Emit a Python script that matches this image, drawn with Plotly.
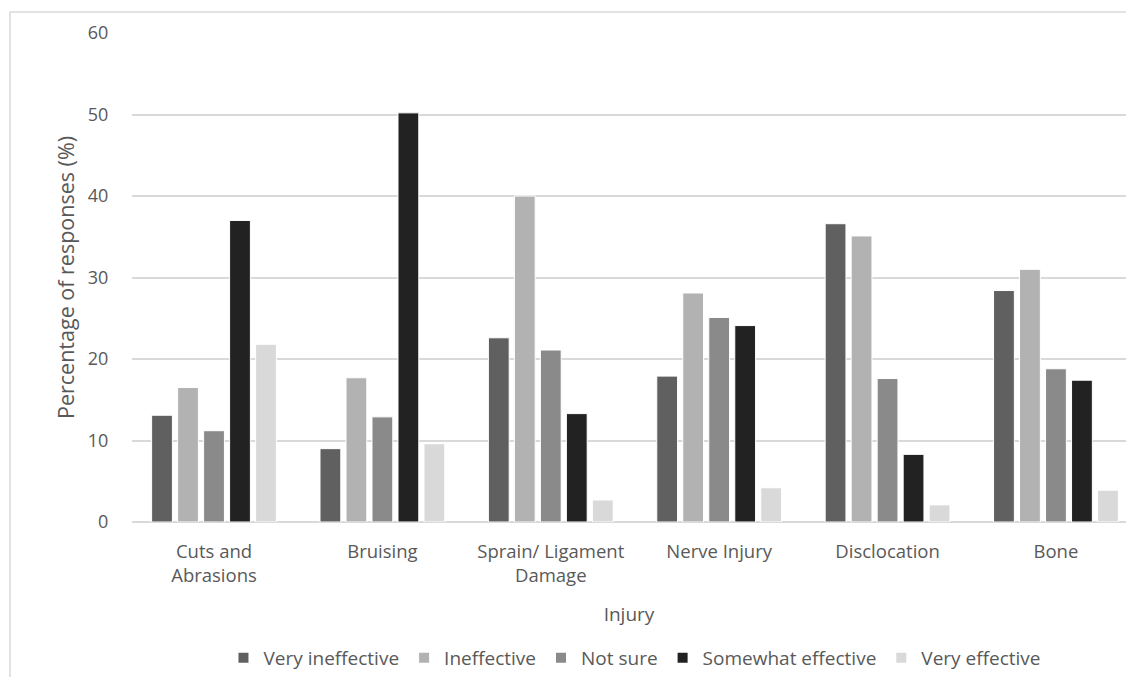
import plotly.graph_objects as go

categories = ["Cuts and<br>Abrasions", "Bruising", "Sprain/ Ligament<br>Damage",
              "Nerve Injury", "Disclocation", "Bone"]
series_names = ["Very ineffective", "Ineffective", "Not sure",
                "Somewhat effective", "Very effective"]
very_ineffective = [13.1, 9.0, 22.6, 17.9, 36.6, 28.4]
ineffective = [16.5, 17.7, 40.0, 28.1, 35.1, 31.0]
not_sure = [11.2, 12.9, 21.1, 25.1, 17.6, 18.8]
somewhat_effective = [37.0, 50.2, 13.3, 24.1, 8.3, 17.4]
very_effective = [21.8, 9.6, 2.7, 4.2, 2.1, 3.9]
y_ticks = [0, 10, 20, 30, 40, 50, 60]

colors = ["#606060", "#b2b2b2", "#8a8a8a", "#222222", "#d9d9d9"]
values = [very_ineffective, ineffective, not_sure, somewhat_effective, very_effective]

FONT = "Open Sans, DejaVu Sans, sans-serif"

fig = go.Figure()
for name, vals, col in zip(series_names, values, colors):
    fig.add_trace(go.Bar(
        x=list(range(len(categories))), y=vals, name=name,
        marker=dict(color=col, line=dict(color="white", width=1)),
    ))

fig.update_layout(
    width=1126, height=677,
    margin=dict(l=132, r=0, t=33, b=155, autoexpand=False),
    paper_bgcolor="white", plot_bgcolor="white",
    barmode="group", bargap=0.228, bargroupgap=0.2,
    font=dict(family=FONT, size=18, color="#595959"),
    xaxis=dict(
        tickmode="array", tickvals=list(range(len(categories))), ticktext=categories,
        range=[-0.487, 5.416], showgrid=False, zeroline=False, showline=False,
        ticks="outside", ticklen=13, tickcolor="rgba(0,0,0,0)",
        tickfont=dict(size=18.5, color="#595959"),
        title=dict(text="Injury", standoff=21, font=dict(size=19, color="#595959")),
        automargin=False,
    ),
    yaxis=dict(
        range=[0, 60], tickvals=y_ticks, showgrid=True, gridcolor="#d9d9d9", gridwidth=1.5,
        zeroline=True, zerolinecolor="#d9d9d9", zerolinewidth=1.5, showline=False,
        ticks="outside", ticklen=19, tickcolor="rgba(0,0,0,0)",
        tickfont=dict(size=18, color="#595959"),
        title=dict(text="Percentage of responses (%)", standoff=7,
                   font=dict(size=21.5, color="#595959")),
        automargin=False,
    ),
    legend=dict(orientation="h", x=0.506, xanchor="center", y=-0.278, yanchor="middle",
                font=dict(size=19, color="#595959"), itemsizing="constant",
                traceorder="normal", itemwidth=30),
    shapes=[dict(type="rect", xref="paper", yref="paper",
                 x0=(10 - 132) / 994, x1=1.2, y0=-0.4, y1=1 + (33 - 12) / 489,
                 line=dict(color="#d9d9d9", width=1.5), layer="below")],
)

fig.write_html("out.html", config={"displayModeBar": False},
               post_script="document.body.style.margin='0';document.body.style.overflow='hidden';")
